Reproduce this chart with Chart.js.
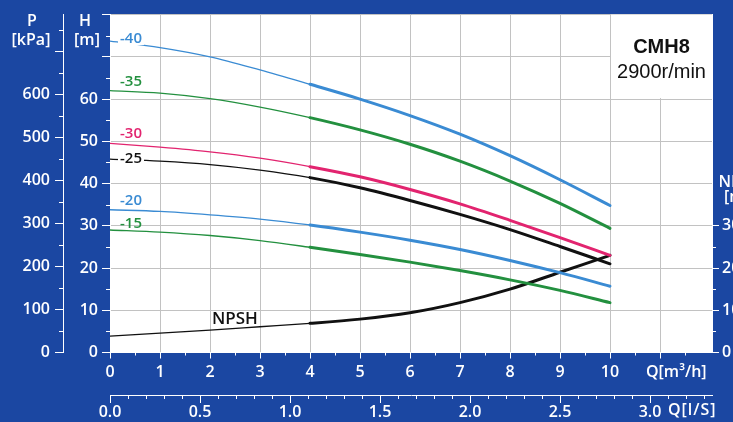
<!DOCTYPE html>
<html>
<head>
<meta charset="utf-8">
<script src="https://cdn.jsdelivr.net/npm/chart.js@4.4.0/dist/chart.umd.min.js"></script>
<style>
    html, body { margin: 0; padding: 0; background: #1b47a2; overflow: hidden; }
    #wrap { width: 733px; height: 422px; position: relative; }
</style>
</head>
<body>
<div id="wrap"><canvas id="chart"></canvas></div>
<script>
// flow points, m3/h
const FLOW = [0, 1, 2, 3, 4, 5, 6, 7, 8, 9, 10];

// head in m for each curve
const HEAD_40 = [73.7, 72.2, 70.0, 66.9, 63.5, 60.0, 56.1, 51.7, 46.6, 40.9, 34.8];
const HEAD_35 = [62.0, 61.4, 60.1, 58.1, 55.6, 52.7, 49.3, 45.3, 40.6, 35.3, 29.4];
const HEAD_30 = [49.5, 48.6, 47.5, 46.0, 44.0, 41.6, 38.6, 35.2, 31.3, 27.2, 23.0];
const HEAD_25 = [45.8, 45.3, 44.5, 43.2, 41.4, 39.0, 36.0, 32.7, 29.1, 25.1, 21.0];
const HEAD_20 = [33.8, 33.4, 32.6, 31.6, 30.2, 28.5, 26.6, 24.4, 21.8, 18.9, 15.7];
const HEAD_15 = [29.0, 28.5, 27.7, 26.5, 24.9, 23.2, 21.4, 19.4, 17.2, 14.7, 11.8];
const NPSH = [3.9, 4.6, 5.3, 6.1, 6.9, 7.9, 9.4, 11.8, 15.0, 19.0, 23.0];

const CURVE_NAMES = ['-40', '-35', '-30', '-25', '-20', '-15'];
const NPSH_NAME = 'NPSH';
const MODEL = 'CMH8';
const SPEED = '2900r/min';

// tick labels
const P_TICKS = [0, 100, 200, 300, 400, 500, 600];
const H_TICKS = [0, 10, 20, 30, 40, 50, 60];
const NPSH_TICKS = [0, 10, 20, 30];
const Q_TICKS = [0, 1, 2, 3, 4, 5, 6, 7, 8, 9, 10];
const QL_TICKS = ['0.0', '0.5', '1.0', '1.5', '2.0', '2.5', '3.0'];

const BG = '#1b47a2';
const WHITE = '#ffffff';
const GRID = '#c2c2c2';
const BLUE = '#3a8bd3';
const GREEN = '#23903f';
const MAGENTA = '#e2246f';
const BLACK = '#111111';
const FONT = "'Open Sans', sans-serif";

Chart.defaults.font.family = FONT;

function points(ys) {
    return FLOW.map((q, i) => ({ x: q, y: ys[i] }));
}

function curve(label, ys, color, axis) {
    return {
        label: label,
        data: points(ys),
        yAxisID: axis || 'h',
        borderColor: color,
        borderWidth: 1.3,
        borderCapStyle: 'round',
        borderJoinStyle: 'round',
        pointRadius: 0,
        cubicInterpolationMode: 'monotone',
        segment: { borderWidth: ctx => ctx.p0.parsed.x >= 4 ? 3 : 1.3 },
    };
}

function minorTicks(ctx, scale, values, len, side) {
    ctx.beginPath();
    for (const v of values) {
        if (side === 'left') {
            const y = Math.round(scale.getPixelForValue(v)) + 0.5;
            ctx.moveTo(scale.right - len, y); ctx.lineTo(scale.right, y);
        } else if (side === 'right') {
            const y = Math.round(scale.getPixelForValue(v)) + 0.5;
            ctx.moveTo(scale.left, y); ctx.lineTo(scale.left + len, y);
        } else {
            const x = Math.round(scale.getPixelForValue(v)) + 0.5;
            ctx.moveTo(x, scale.top); ctx.lineTo(x, scale.top + len);
        }
    }
    ctx.stroke();
}

function range(from, to, step) {
    const out = [];
    for (let i = 0; from + i * step <= to + 1e-9; i++) out.push(+(from + i * step).toFixed(3));
    return out;
}

const decor = {
    id: 'decor',
    beforeDraw(chart) {
        const { ctx, chartArea: a, width, height } = chart;
        ctx.save();
        ctx.fillStyle = BG;
        ctx.fillRect(0, 0, width, height);
        ctx.fillStyle = WHITE;
        ctx.fillRect(a.left, a.top, a.right - a.left, a.bottom - a.top);
        ctx.restore();
    },
    beforeDatasetsDraw(chart) {
        const { ctx, chartArea: a } = chart;
        const { x, x2, h, p, n } = chart.scales;
        ctx.save();
        // model box hides the grid in the top right corner
        const bx = x.getPixelForValue(10) + 1;
        const by = h.getPixelForValue(60) - 1;
        ctx.fillStyle = WHITE;
        ctx.fillRect(bx, a.top, a.right - bx, by - a.top);
        ctx.fillStyle = BLACK;
        ctx.textAlign = 'center';
        ctx.textBaseline = 'middle';
        ctx.font = "bold 20px 'Liberation Sans', Arial, sans-serif";
        ctx.fillText(MODEL, (bx + a.right) / 2, h.getPixelForValue(72.3));
        ctx.font = "20px 'Liberation Sans', Arial, sans-serif";
        ctx.fillText(SPEED, (bx + a.right) / 2, h.getPixelForValue(66.3));

        // minor ticks
        ctx.strokeStyle = WHITE;
        ctx.lineWidth = 1;
        minorTicks(ctx, p, range(50, 750, 100), 4, 'left');
        minorTicks(ctx, h, range(5, 75, 10), 4, 'left');
        minorTicks(ctx, n, [5, 15, 25], 4, 'right');
        minorTicks(ctx, x, range(0.5, 11.5, 1), 3, 'bottom');
        minorTicks(ctx, x2, range(0.1, 3.3, 0.1).filter(v => Math.abs(v * 2 - Math.round(v * 2)) > 1e-6), 4, 'bottom');

        // axis titles
        ctx.fillStyle = WHITE;
        ctx.font = `600 16px ${FONT}`;
        ctx.textAlign = 'center';
        ctx.fillText('P', p.right - 31, 21);
        ctx.fillText('[kPa]', p.right - 32, 40);
        ctx.fillText('H', h.right - 25, 21);
        ctx.fillText('[m]', h.right - 23, 40);
        ctx.fillText('NPSH', n.left + 28, h.getPixelForValue(40.2));
        ctx.fillText('[m]', n.left + 25, h.getPixelForValue(36.6));
        ctx.textAlign = 'left';
        ctx.fillText('Q[m³/h]', x.getPixelForValue(10.72), x.top + 20);
        ctx.letterSpacing = '1px';
        ctx.fillText('Q[l/S]', x2.getPixelForValue(3.1), x2.top + 15);
        ctx.restore();
    },
    afterDatasetsDraw(chart) {
        const { ctx } = chart;
        const { x, h } = chart.scales;
        const spots = [
            [0.2, 74.2, BLUE, true],
            [0.2, 64.0, GREEN, false],
            [0.2, 51.7, MAGENTA, false],
            [0.2, 45.8, BLACK, true],
            [0.2, 35.9, BLUE, false],
            [0.2, 30.6, GREEN, false],
        ];
        ctx.save();
        ctx.font = `600 15px ${FONT}`;
        ctx.textAlign = 'left';
        ctx.textBaseline = 'middle';
        CURVE_NAMES.forEach((name, i) => {
            const [q, v, color, box] = spots[i];
            const px = x.getPixelForValue(q), py = h.getPixelForValue(v);
            if (box) {
                const w = ctx.measureText(name).width;
                ctx.fillStyle = WHITE;
                ctx.fillRect(px - 2, py - 6, w + 4, 12);
            }
            ctx.fillStyle = color;
            ctx.fillText(name, px, py);
        });
        ctx.fillStyle = BLACK;
        ctx.font = `600 17px ${FONT}`;
        ctx.fillText(NPSH_NAME, x.getPixelForValue(2.04), h.getPixelForValue(7.8));
        ctx.restore();
    }
};

const tickFont = { size: 16, weight: '600' };

new Chart(document.getElementById('chart'), {
    type: 'line',
    data: {
        datasets: [
            curve(CURVE_NAMES[0], HEAD_40, BLUE),
            curve(CURVE_NAMES[1], HEAD_35, GREEN),
            curve(CURVE_NAMES[2], HEAD_30, MAGENTA),
            curve(CURVE_NAMES[3], HEAD_25, BLACK),
            curve(CURVE_NAMES[4], HEAD_20, BLUE),
            curve(CURVE_NAMES[5], HEAD_15, GREEN),
            curve(NPSH_NAME, NPSH, BLACK, 'n'),
        ]
    },
    options: {
        responsive: true,
        maintainAspectRatio: false,
        animation: false,
        layout: { padding: { top: 13, left: 0, right: 0, bottom: 0 } },
        plugins: { legend: { display: false }, tooltip: { enabled: false } },
        scales: {
            x: {
                type: 'linear', position: 'bottom', weight: 0, min: 0, max: 12.04,
                afterFit: s => { s.height = 42.5; },
                afterBuildTicks: s => { s.ticks = s.ticks.filter(t => t.value <= 12); },
                ticks: {
                    stepSize: 1, color: WHITE, font: tickFont, padding: 4, maxRotation: 0, autoSkip: false,
                    callback: v => Q_TICKS.includes(v) ? String(v) : ''
                },
                grid: { color: GRID, tickColor: WHITE, tickLength: 6 },
                border: { color: WHITE }
            },
            x2: {
                type: 'linear', position: 'bottom', weight: 1, min: 0, max: 12.04 / 3.6,
                afterFit: s => { s.height = 27; },
                ticks: {
                    stepSize: 0.5, includeBounds: false, color: WHITE, font: tickFont, padding: 0,
                    maxRotation: 0, autoSkip: false,
                    callback: v => QL_TICKS[Math.round(v * 2)] || ''
                },
                grid: { drawOnChartArea: false, tickColor: WHITE, tickLength: 8 },
                border: { color: WHITE }
            },
            h: {
                type: 'linear', position: 'left', weight: 1, min: 0, max: 80,
                afterFit: s => { s.width = 47; },
                ticks: {
                    stepSize: 10, color: WHITE, font: tickFont, padding: 4,
                    callback: v => H_TICKS.includes(v) ? String(v) : ''
                },
                grid: { color: GRID, tickColor: WHITE, tickLength: 8 },
                border: { color: WHITE }
            },
            p: {
                type: 'linear', position: 'left', weight: 2, min: 0, max: 80 * 9.81,
                afterFit: s => { s.width = 63; },
                ticks: {
                    stepSize: 100, includeBounds: false, color: WHITE, font: tickFont, padding: 5,
                    callback: v => P_TICKS.includes(v) ? String(v) : ''
                },
                grid: { drawOnChartArea: false, tickColor: WHITE, tickLength: 8 },
                border: { color: WHITE }
            },
            n: {
                type: 'linear', position: 'right', weight: 1, min: 0, max: 80,
                afterFit: s => { s.width = 21; },
                afterBuildTicks: s => { s.ticks = s.ticks.filter(t => t.value <= 30); },
                ticks: {
                    stepSize: 10, color: WHITE, font: tickFont, padding: 3,
                    callback: v => NPSH_TICKS.includes(v) ? String(v) : ''
                },
                grid: { drawOnChartArea: false, tickColor: WHITE, tickLength: 7 },
                border: { color: WHITE }
            }
        }
    },
    plugins: [decor]
});
</script>
</body>
</html>
